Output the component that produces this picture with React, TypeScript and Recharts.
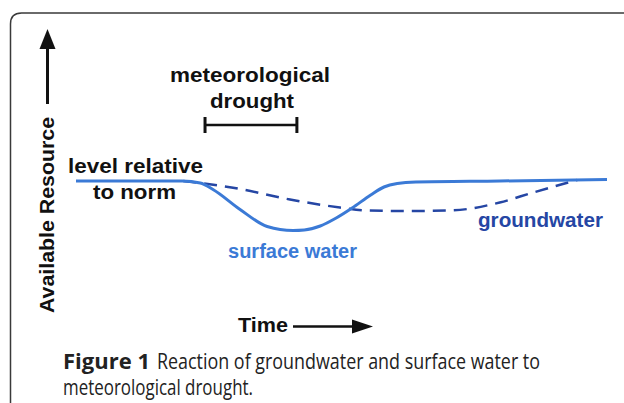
import React from "react";
import { LineChart, Line, XAxis, YAxis, ReferenceLine } from "recharts";

// Time (arbitrary units, 0..100) and level relative to norm (0 = norm)
const surfaceTime = [0, 20, 23.4, 25.8, 30.9, 36, 40.9, 43, 46, 49, 52, 55.5, 58, 60.5, 64, 79.8, 100];
const surfaceLevel = [0, 0, -2, -8.5, -28.5, -45.5, -49.5, -49, -45, -37, -27, -14, -6, -2.5, -1, 0, 1.5];

const groundTime = [20.2, 30.9, 40.3, 49.7, 54.8, 62, 70.4, 79.8, 86.1, 94.4];
const groundLevel = [0, -8, -18.5, -26.5, -29.5, -30, -29.5, -21.5, -11.5, 1];

const droughtStart = 24.3;
const droughtEnd = 41.6;
const bracketLevel = 56;
const bracketHalf = 8;

const surfaceData = surfaceTime.map((t, i) => ({ t, level: surfaceLevel[i] }));
const groundData = groundTime.map((t, i) => ({ t, level: groundLevel[i] }));

const W = 624;
const H = 403;
const FONT = "'Liberation Sans', Arial, Helvetica, sans-serif";
const CAPTION_FONT = "'Open Sans', 'Noto Sans', sans-serif";
const SURFACE = "#3b7ad6";
const GROUND = "#2546a4";

export default function App() {
  return (
    <div style={{ position: "absolute", left: 0, top: 0, width: W, height: H, background: "#fff", overflow: "hidden" }}>
      <div style={{ position: "absolute", left: 0, top: 0 }}>
        <LineChart width={W} height={H} margin={{ top: 111, right: 17, bottom: 162, left: 76 }}>
          <XAxis type="number" dataKey="t" domain={[0, 100]} hide allowDataOverflow />
          <YAxis type="number" domain={[-60, 70]} hide allowDataOverflow />
          <ReferenceLine
            segment={[{ x: droughtStart, y: bracketLevel }, { x: droughtEnd, y: bracketLevel }]}
            stroke="#111"
            strokeWidth={2.5}
            ifOverflow="visible"
          />
          <ReferenceLine
            segment={[{ x: droughtStart, y: bracketLevel - bracketHalf }, { x: droughtStart, y: bracketLevel + bracketHalf }]}
            stroke="#111"
            strokeWidth={3}
            ifOverflow="visible"
          />
          <ReferenceLine
            segment={[{ x: droughtEnd, y: bracketLevel - bracketHalf }, { x: droughtEnd, y: bracketLevel + bracketHalf }]}
            stroke="#111"
            strokeWidth={3}
            ifOverflow="visible"
          />
          <Line
            data={groundData}
            dataKey="level"
            type="monotone"
            stroke={GROUND}
            strokeWidth={2.5}
            strokeDasharray="13 8"
            dot={false}
            activeDot={false}
            isAnimationActive={false}
          />
          <Line
            data={surfaceData}
            dataKey="level"
            type="monotone"
            stroke={SURFACE}
            strokeWidth={3}
            dot={false}
            activeDot={false}
            isAnimationActive={false}
          />
        </LineChart>
      </div>
      <svg width={W} height={H} style={{ position: "absolute", left: 0, top: 0, pointerEvents: "none" }}>
        <path d="M10.5,410 L10.5,24 Q10.5,13 21.5,13 L630,13" fill="none" stroke="#3a3a3a" strokeWidth={1.5} />
        {/* y axis arrow */}
        <line x1={47.5} y1={104} x2={47.5} y2={45} stroke="#111" strokeWidth={3} />
        <polygon points="47.5,29 39.5,49 55.5,49" fill="#111" />
        <text
          transform="translate(53.5,215) rotate(-90)"
          textAnchor="middle"
          fontFamily={FONT}
          fontWeight="bold"
          fontSize={20}
          fill="#111"
          textLength={196}
          lengthAdjust="spacingAndGlyphs"
        >
          Available Resource
        </text>
        <text x={170} y={82} fontFamily={FONT} fontWeight="bold" fontSize={20} fill="#111" textLength={160} lengthAdjust="spacingAndGlyphs">
          meteorological
        </text>
        <text x={210} y={108} fontFamily={FONT} fontWeight="bold" fontSize={20} fill="#111" textLength={84} lengthAdjust="spacingAndGlyphs">
          drought
        </text>
        <text x={68} y={173} fontFamily={FONT} fontWeight="bold" fontSize={20} fill="#111" textLength={135} lengthAdjust="spacingAndGlyphs">
          level relative
        </text>
        <text x={93} y={199} fontFamily={FONT} fontWeight="bold" fontSize={20} fill="#111" textLength={83} lengthAdjust="spacingAndGlyphs">
          to norm
        </text>
        <text x={228} y={258} fontFamily={FONT} fontWeight="bold" fontSize={20} fill={SURFACE} textLength={129} lengthAdjust="spacingAndGlyphs">
          surface water
        </text>
        <text x={478} y={227} fontFamily={FONT} fontWeight="bold" fontSize={20} fill={GROUND} textLength={125} lengthAdjust="spacingAndGlyphs">
          groundwater
        </text>
        <text x={238} y={332} fontFamily={FONT} fontWeight="bold" fontSize={20} fill="#111" textLength={50} lengthAdjust="spacingAndGlyphs">
          Time
        </text>
        <line x1={293} y1={326.5} x2={358} y2={326.5} stroke="#111" strokeWidth={2.5} />
        <polygon points="373,326.5 352,319.5 352,333.5" fill="#111" />
        <text x={63} y={369} fontFamily={CAPTION_FONT} fontWeight="bold" fontSize={21} fill="#222" textLength={87} lengthAdjust="spacingAndGlyphs">
          Figure 1
        </text>
        <text x={157} y={369} fontFamily={CAPTION_FONT} fontSize={21} fill="#222" textLength={383} lengthAdjust="spacingAndGlyphs">
          Reaction of groundwater and surface water to
        </text>
        <text x={63} y={395} fontFamily={CAPTION_FONT} fontSize={21} fill="#222" textLength={190} lengthAdjust="spacingAndGlyphs">
          meteorological drought.
        </text>
      </svg>
    </div>
  );
}
